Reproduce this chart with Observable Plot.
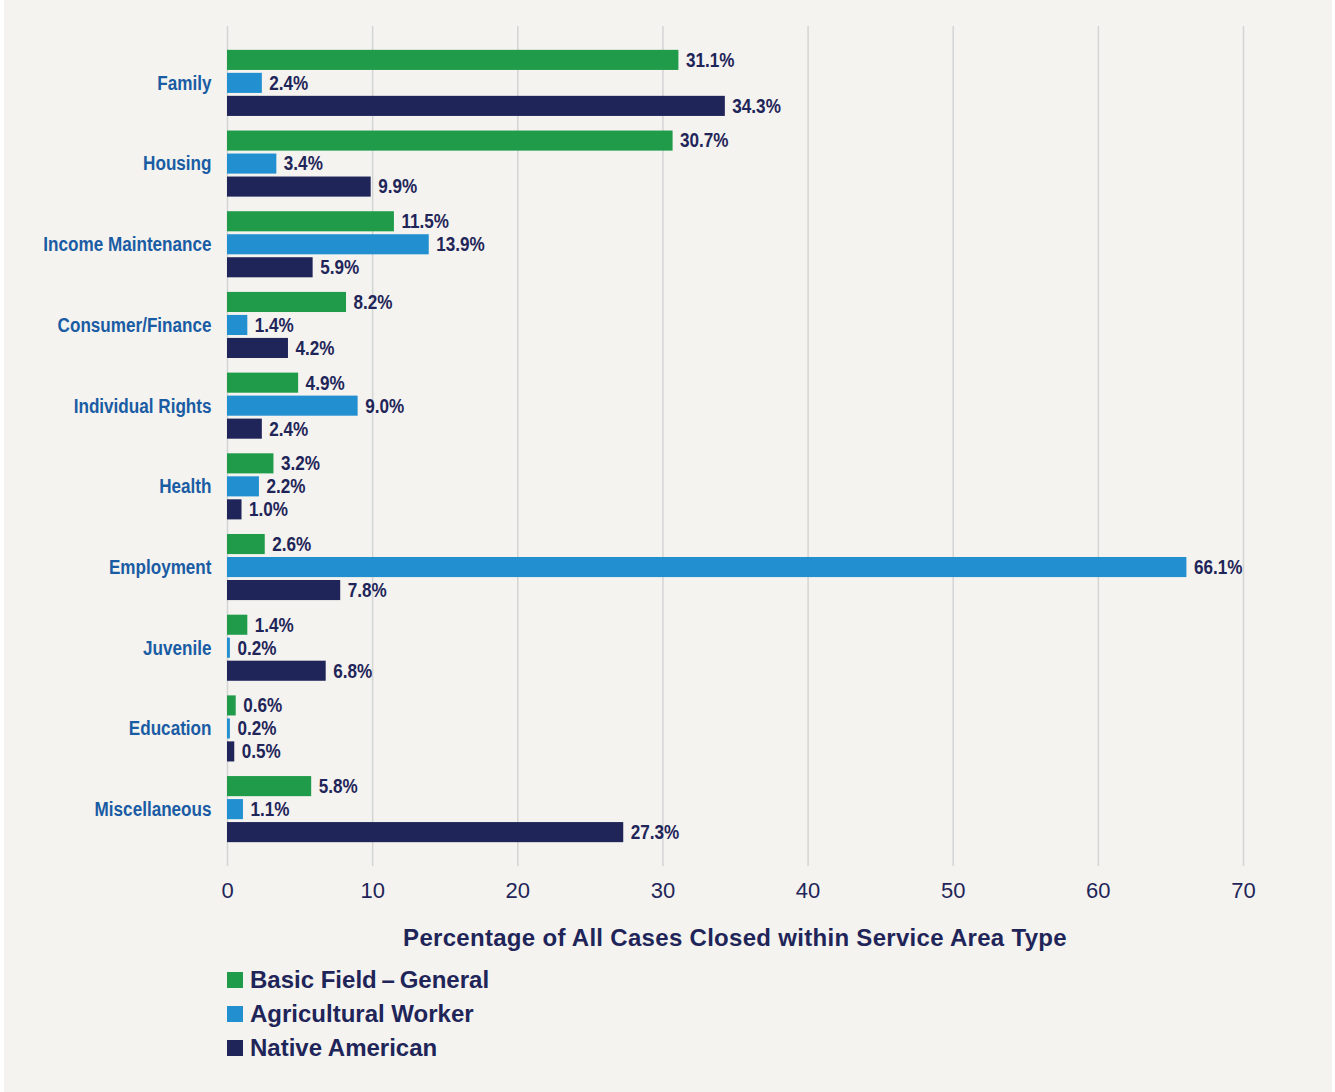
<!DOCTYPE html>
<html>
<head>
<meta charset="utf-8">
<script src="https://cdn.jsdelivr.net/npm/d3@7"></script>
<script src="https://cdn.jsdelivr.net/npm/@observablehq/plot@0.6"></script>
<style>
  html, body { margin: 0; padding: 0; background: #ffffff; }
  #panel { position: absolute; left: 4px; top: 0; width: 1328px; height: 1092px; background: #f4f3ef; overflow: hidden; }
  #chart { position: absolute; left: 0; top: 0; }
  #xtitle { position: absolute; left: 223px; width: 1016px; top: 926px; text-align: center;
    font: bold 24px "Liberation Sans", Arial, sans-serif; letter-spacing: 0.3px; color: #1f2559; line-height: 24px; }
  #legend { position: absolute; left: 223px; top: 963px; font: bold 24px "Liberation Sans", Arial, sans-serif; color: #1f2559; }
  .item { display: flex; align-items: center; height: 34px; }
  .sw { width: 16px; height: 16px; margin-right: 7px; }
</style>
</head>
<body>
<div id="panel">
  <div id="chart"></div>
  <div id="xtitle"></div>
  <div id="legend"></div>
</div>
<script>
const categories = ["Family","Housing","Income Maintenance","Consumer/Finance","Individual Rights","Health","Employment","Juvenile","Education","Miscellaneous"];
const basicField = [31.1,30.7,11.5,8.2,4.9,3.2,2.6,1.4,0.6,5.8];
const agricultural = [2.4,3.4,13.9,1.4,9.0,2.2,66.1,0.2,0.2,1.1];
const nativeAmerican = [34.3,9.9,5.9,4.2,2.4,1.0,7.8,6.8,0.5,27.3];
const seriesNames = ["Basic Field\u2009\u2013\u2009General","Agricultural Worker","Native American"];
const seriesColors = ["#1f9b4a","#2290d0","#1f2459"];
const xTicks = [0,10,20,30,40,50,60,70];
const xTitle = "Percentage of All Cases Closed within Service Area Type";

const seriesValues = [basicField, agricultural, nativeAmerican];
const offsets = [-23, 0, 23];
const navy = "#1f2559";
const catBlue = "#1a5ca4";
const labelFont = "'Liberation Sans', Arial, sans-serif";

const marks = [
  Plot.ruleX(xTicks, {stroke: "#d3d4d4", strokeWidth: 1.5})
];
seriesValues.forEach((vals, i) => {
  const rows = categories.map((c, j) => ({category: c, value: vals[j]}));
  marks.push(Plot.barX(rows, {x: "value", y: "category", fill: seriesColors[i], insetTop: 30.3, insetBottom: 30.3, dy: offsets[i]}));
  marks.push(Plot.text(rows, {x: "value", y: "category", text: d => d.value.toFixed(1) + "%", dx: 7, dy: offsets[i],
    textAnchor: "start", fill: navy, fontSize: 20, fontWeight: "bold", fontFamily: labelFont}));
});
marks.push(Plot.axisX(xTicks, {tickSize: 0, tickPadding: 16, fontSize: 22, color: navy, label: null, fontFamily: "'Liberation Sans', Arial, sans-serif"}));
marks.push(Plot.axisY({tickSize: 0, tickPadding: 16, fontSize: 20, fontWeight: "bold", color: catBlue, label: null, fontFamily: labelFont}));

const chart = Plot.plot({
  width: 1328,
  height: 912,
  marginLeft: 223,
  marginRight: 89,
  marginTop: 26,
  marginBottom: 46,
  style: {background: "transparent", overflow: "visible"},
  x: {domain: [0, 70]},
  y: {domain: categories, paddingInner: 0, paddingOuter: 0.205, round: false},
  marks
});
document.getElementById("chart").appendChild(chart);
document.getElementById("xtitle").textContent = xTitle;

// emulate a condensed bold face by compressing glyphs horizontally
chart.querySelectorAll('g[aria-label="text"] text, g[aria-label="y-axis tick label"] text').forEach(t => {
  const w = t.getComputedTextLength();
  if (w > 0) {
    t.setAttribute("textLength", (w * 0.855).toFixed(1));
    t.setAttribute("lengthAdjust", "spacingAndGlyphs");
  }
});

const legend = document.getElementById("legend");
seriesNames.forEach((n, i) => {
  const it = document.createElement("div");
  it.className = "item";
  const sw = document.createElement("div");
  sw.className = "sw";
  sw.style.background = seriesColors[i];
  const t = document.createElement("span");
  t.textContent = n;
  it.appendChild(sw); it.appendChild(t);
  legend.appendChild(it);
});
</script>
</body>
</html>
